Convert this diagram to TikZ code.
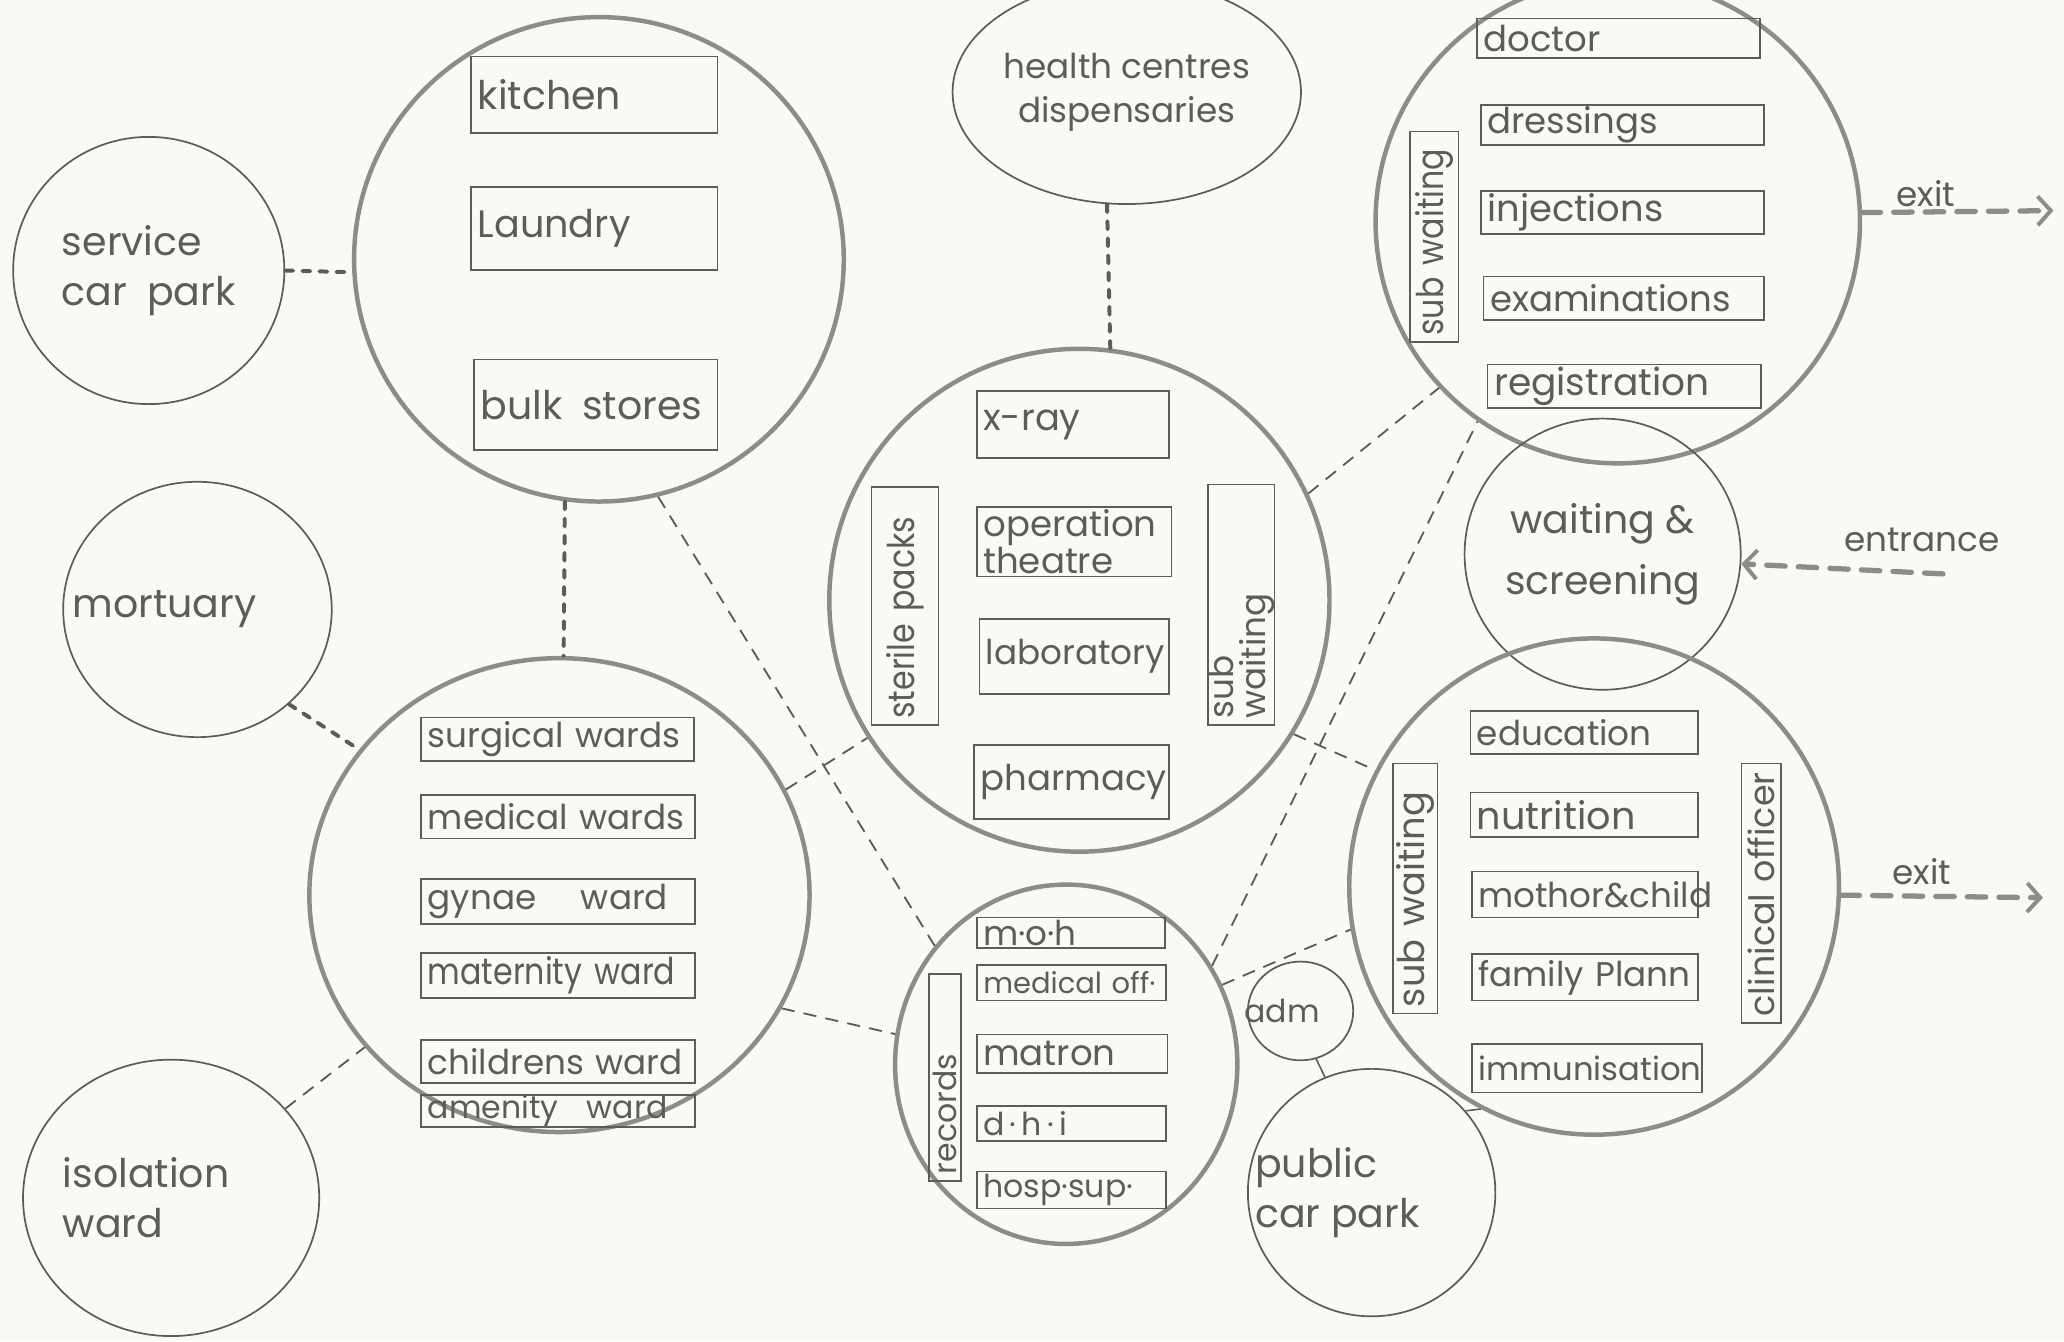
\documentclass[tikz,border=0pt]{standalone}
\usepackage{xcolor}
\usepackage{fontspec}
\setmainfont{Poppins}
\newfontfamily\narrowtype{Poppins}[FakeStretch=0.86]
\usetikzlibrary{shapes.geometric,arrows.meta}

\definecolor{paper}{RGB}{250,249,243}
\definecolor{ink}{RGB}{92,92,92}
\definecolor{rim}{RGB}{140,140,140}

\newcommand{\circtype}{\fontsize{30}{38}\selectfont}
\newcommand{\roomtype}{\fontsize{28}{30}\selectfont}
\newcommand{\midtype}{\fontsize{26}{28}\selectfont}
\newcommand{\smalltype}{\fontsize{24}{26}\selectfont}

\begin{document}
\begin{tikzpicture}[x=1pt,y=1pt,yscale=-1,
  bubble/.style={ellipse, draw=ink, line width=1.3pt, inner sep=0pt, text=ink, align=left, font=\circtype},
  bigbubble/.style={ellipse, draw=rim, line width=3.4pt, inner sep=0pt},
  room/.style 2 args={draw=ink, line width=1.3pt, inner xsep=5pt, inner ysep=0pt, text width=#1, minimum height=#2, align=left, text=ink, font=\roomtype},
  bubbletext/.style={text=ink, align=left, font=\circtype},
  link/.style={draw=ink, line width=1.4pt, dash pattern=on 10pt off 7pt},
  heavylink/.style={draw=ink, line width=3pt, dash pattern=on 6pt off 7pt, line cap=round},
  tie/.style={draw=ink, line width=1.2pt},
  flow/.style={draw=rim, line width=4pt, dash pattern=on 14pt off 10pt, line cap=round, -{Straight Barb[length=10pt,width=22pt,line width=3pt]}}]

% paper
\fill[paper] (0,0) rectangle (1568,1019);
\useasboundingbox (0,0) rectangle (1568,1019);

%Shape: Circle [service car park]
\node[bubble, minimum width=206pt, minimum height=203pt] (service) at (113,205.5) {service\\car\enspace park};

%Shape: Circle [kitchen, laundry, stores]
\node[bigbubble, minimum width=372pt, minimum height=368pt] (stores) at (455,197) {};
\node[room={177pt}{58pt}, font=\fontsize{30}{30}\selectfont] (kitchen) at (451.5,72) {kitchen};
\node[room={177pt}{63pt}, font=\fontsize{29}{30}\selectfont] (laundry) at (451.5,173.5) {Laundry};
\node[room={175pt}{69pt}, font=\fontsize{30}{30}\selectfont] (bulk) at (452.5,307.5) {bulk\enspace stores};

%Shape: Circle [health centres]
\node[bubble, minimum width=208pt, minimum height=170pt, align=center, font=\fontsize{26}{33}\selectfont] (health) at (856,70) {health centres\\dispensaries};

%Shape: Circle [diagnostic services]
\node[bigbubble, minimum width=380pt, minimum height=382pt] (services) at (820,456) {};
\node[room={136pt}{51pt}] (xray) at (815,322.5) {x-ray};
\node[room={138pt}{53pt}, font=\fontsize{27}{19}\selectfont] (theatre) at (816,411.5) {operation\\theatre};
\node[room={134pt}{57pt}, font=\fontsize{26}{28}\selectfont] (lab) at (816,498.5) {laboratory};
\node[room={138pt}{56pt}, font=\fontsize{27}{28}\selectfont] (pharmacy) at (814,594) {pharmacy};
\node[room={171pt}{51pt}, rotate=90, font=\narrowtype\fontsize{28}{30}\selectfont] (sterile) at (687.5,460.5) {sterile packs};
\node[room={173pt}{50pt}, rotate=90, font=\fontsize{26}{24}\selectfont] (subwaitA) at (943,459.5) {sub\\waiting};

%Shape: Circle [out-patients]
\node[bigbubble, minimum width=368pt, minimum height=368pt] (opd) at (1229,168) {};
\node[room={205pt}{30pt}, font=\fontsize{27}{28}\selectfont] (doctor) at (1229.5,29) {doctor};
\node[room={205pt}{30pt}, font=\fontsize{27}{28}\selectfont] (dressings) at (1232.5,95) {dressings};
\node[room={205pt}{33pt}, font=\fontsize{28}{28}\selectfont] (injections) at (1232.5,161.5) {injections};
\node[room={203pt}{33pt}, font=\fontsize{27}{28}\selectfont] (exams) at (1233.5,226.5) {examinations};
\node[room={198pt}{33pt}, font=\fontsize{28.5}{28}\selectfont] (registration) at (1234,293.5) {registration};
\node[room={150pt}{37pt}, rotate=90, font=\narrowtype\fontsize{28}{28}\selectfont] (subwaitB) at (1089.5,180) {sub waiting};

%Shape: Circle [waiting and screening]
\node[bubble, minimum width=201pt, minimum height=206pt, align=center, font=\fontsize{30}{46}\selectfont] (waiting) at (1217.5,421) {waiting \&\\screening};

%Shape: Circle [mother and child health]
\node[bigbubble, minimum width=372pt, minimum height=377pt] (mch) at (1211,673.5) {};
\node[room={163pt}{33pt}, font=\midtype] (education) at (1203.5,556.5) {education};
\node[room={163pt}{34pt}, font=\fontsize{29}{28}\selectfont] (nutrition) at (1203.5,619) {nutrition};
\node[room={162pt}{35pt}, font=\midtype] (mothchild) at (1204,679.5) {mothor\&child};
\node[room={162pt}{35pt}, font=\midtype] (family) at (1204,742.5) {family Plann};
\node[room={165pt}{37pt}, font=\fontsize{24.5}{26}\selectfont] (immun) at (1205.5,811.5) {immunisation};
\node[room={180pt}{34pt}, rotate=90, font=\fontsize{28}{28}\selectfont] (subwaitC) at (1075,675) {sub waiting};
\node[room={187pt}{30pt}, rotate=90, font=\fontsize{26.5}{28}\selectfont] (clinical) at (1338,678.5) {clinical officer};

%Shape: Circle [mortuary]
\node[bubble, minimum width=204pt, minimum height=194pt, label={[bubbletext, xshift=-25pt]center:mortuary}] (mortuary) at (150,463) {};

%Shape: Circle [wards]
\node[bigbubble, minimum width=380pt, minimum height=360pt] (wards) at (425,680) {};
\node[room={197pt}{33pt}, font=\midtype] (surgical) at (423.5,561.5) {surgical wards};
\node[room={198pt}{33pt}, font=\midtype] (medical) at (424,620.5) {medical wards};
\node[room={198pt}{34pt}, font=\midtype] (gynae) at (424,685) {gynae\hspace{1.3em}ward};
\node[room={198pt}{34pt}, font=\narrowtype\fontsize{28}{28}\selectfont] (maternity) at (424,741) {maternity ward};
\node[room={198pt}{33pt}, font=\midtype] (childrens) at (424,806.5) {childrens ward};
\node[room={198pt}{24pt}, font=\smalltype] (amenity) at (424,844) {amenity\hspace{0.9em}ward};

%Shape: Circle [isolation ward]
\node[bubble, minimum width=225pt, minimum height=210pt, label={[bubbletext, xshift=-19pt]center:{isolation\\ward}}] (isolation) at (130,910) {};

%Shape: Circle [administration]
\node[bigbubble, minimum width=260pt, minimum height=273pt] (admin) at (810,808.5) {};
\node[room={133pt}{23pt}, font=\fontsize{26}{26}\selectfont] (moh) at (813.5,708.5) {m·o·h};
\node[room={134pt}{27pt}, font=\fontsize{22}{24}\selectfont] (medoff) at (814,746.5) {medical off·};
\node[room={135pt}{29pt}, font=\fontsize{27}{28}\selectfont] (matron) at (814.5,800.5) {matron};
\node[room={134pt}{27pt}, font=\smalltype] (dhi) at (814,853.5) {d\,·\,h\,·\,i};
\node[room={134pt}{28pt}, font=\smalltype] (hospsup) at (814,904) {hosp·sup·};
\node[room={147pt}{24pt}, rotate=90, font=\smalltype] (records) at (718,818.5) {records};

%Shape: Circle [adm]
\node[bubble, minimum width=80pt, minimum height=75pt, label={[bubbletext, xshift=-14pt, font=\smalltype]center:adm}] (adm) at (988,768) {};

%Shape: Circle [public car park]
\node[bubble, minimum width=188pt, minimum height=188pt, label={[bubbletext, xshift=-26pt]center:{public\\car park}}] (carpark) at (1042,906) {};

%Straight Lines
\draw[heavylink] (service.0) -- (stores.183);
\draw[heavylink] (health.-100) -- (services.83);
\draw[heavylink] (stores.-98) -- (wards.89);
\draw[link] (stores.-76) -- (admin.138);
\draw[heavylink] (mortuary.-46) -- (wards.144);
\draw[link] (isolation.38) -- (wards.218);
\draw[link] (wards.25) -- (services.213);
\draw[link] (wards.-27) -- (admin.170);
\draw[link] (services.25) -- (opd.223);
\draw[link] (services.-32) -- (mch.152);
\draw[link] (admin.34) -- (opd.235);
\draw[link] (admin.27) -- (mch.190);
\draw[tie] (adm.-72) -- (carpark.112);
\draw[tie] (carpark.41) -- (mch.243);

%Arrows: exits and entrance
\coordinate (exitA) at (1560,160);
\draw[flow] (opd.2) -- (exitA);
\node[bubbletext, font=\midtype] (exitAtext) at (1463,147) {exit};
\coordinate (entry) at (1476,436);
\draw[flow] (entry) -- (waiting.-4);
\node[bubbletext, font=\midtype] (entrytext) at (1460,410) {entrance};
\coordinate (exitB) at (1552,682);
\draw[flow] (mch.-2) -- (exitB);
\node[bubbletext, font=\midtype] (exitBtext) at (1460,662) {exit};

\end{tikzpicture}
\end{document}
